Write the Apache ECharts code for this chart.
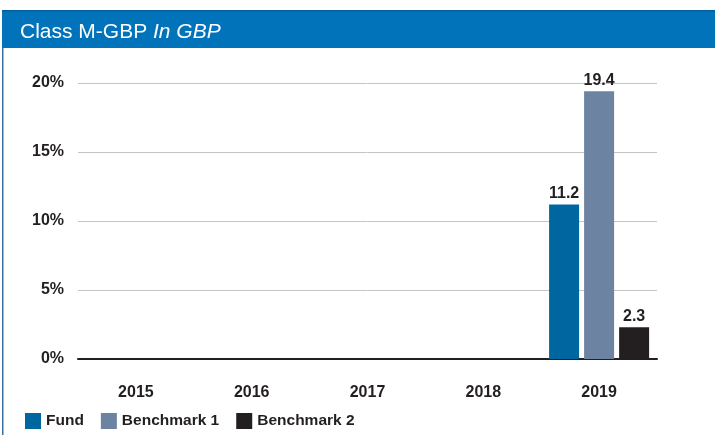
<!DOCTYPE html>
<html>
<head>
<meta charset="utf-8">
<script src="https://cdn.jsdelivr.net/npm/echarts@6/dist/echarts.min.js"></script>
<style>
html,body{margin:0;padding:0;background:#fff;}
#c{width:715px;height:435px;}
</style>
</head>
<body>
<div id="c"></div>
<script>
var categories = ['2015', '2016', '2017', '2018', '2019'];
var fund = [null, null, null, null, 11.2];
var benchmark1 = [null, null, null, null, 19.4];
var benchmark2 = [null, null, null, null, 2.3];
var yTicks = [0, 5, 10, 15, 20];

var chart = echarts.init(document.getElementById('c'), null, {renderer: 'canvas'});
var fontFam = '"Liberation Sans", Arial, sans-serif';
var labelStyle = {show: true, position: 'top', distance: 3, color: '#231f20', fontWeight: 'bold', fontSize: 16, fontFamily: fontFam};
chart.setOption({
  animation: false,
  backgroundColor: '#fff',
  graphic: [
    {type: 'rect', left: 2, top: 10, shape: {width: 713, height: 38}, style: {fill: '#0073bb'}, z: 0},
    {type: 'rect', left: 2, top: 10, shape: {width: 713, height: 1.5}, style: {fill: '#005f9c'}, z: 1},
    {type: 'rect', left: 2, top: 48, shape: {width: 1.5, height: 387}, style: {fill: '#3a6e9c'}, z: 1}
  ],
  title: {
    left: 15, top: 17,
    text: '{n|Class M-GBP }{i|In GBP}',
    textStyle: {
      fontWeight: 'normal',
      rich: {
        n: {color: '#fff', fontSize: 21, fontWeight: 'normal', fontFamily: fontFam},
        i: {color: '#fff', fontSize: 21, fontWeight: 'normal', fontStyle: 'italic', fontFamily: fontFam}
      }
    }
  },
  legend: {
    left: 25, top: 413, padding: 0,
    itemWidth: 16, itemHeight: 16, itemGap: 17, itemTextGap: 4,
    icon: 'rect',
    textStyle: {color: '#231f20', fontWeight: 'bold', fontSize: 15.5, fontFamily: fontFam},
    data: ['Fund', 'Benchmark 1', 'Benchmark 2']
  },
  grid: {left: 78, right: 58, top: 83, bottom: 76, containLabel: false},
  xAxis: {
    type: 'category',
    data: categories,
    axisLine: {show: true, lineStyle: {color: '#231f20', width: 2}},
    axisTick: {show: false},
    axisLabel: {color: '#231f20', fontWeight: 'bold', fontSize: 16, fontFamily: fontFam, margin: 26}
  },
  yAxis: {
    type: 'value',
    min: yTicks[0], max: yTicks[yTicks.length - 1], interval: 5,
    axisLine: {show: false},
    axisTick: {show: false},
    splitLine: {lineStyle: {color: '#c4c4c4', width: 1}},
    axisLabel: {formatter: '{value}%', color: '#231f20', fontWeight: 'bold', fontSize: 16, fontFamily: fontFam, margin: 14}
  },
  series: [
    {name: 'Fund', type: 'bar', data: fund, barWidth: 30, barGap: '16.7%', itemStyle: {color: '#00669f'}, label: labelStyle},
    {name: 'Benchmark 1', type: 'bar', data: benchmark1, barWidth: 30, barGap: '16.7%', itemStyle: {color: '#6d83a2'}, label: labelStyle},
    {name: 'Benchmark 2', type: 'bar', data: benchmark2, barWidth: 30, barGap: '16.7%', itemStyle: {color: '#231f20'}, label: labelStyle}
  ]
});
</script>
</body>
</html>
